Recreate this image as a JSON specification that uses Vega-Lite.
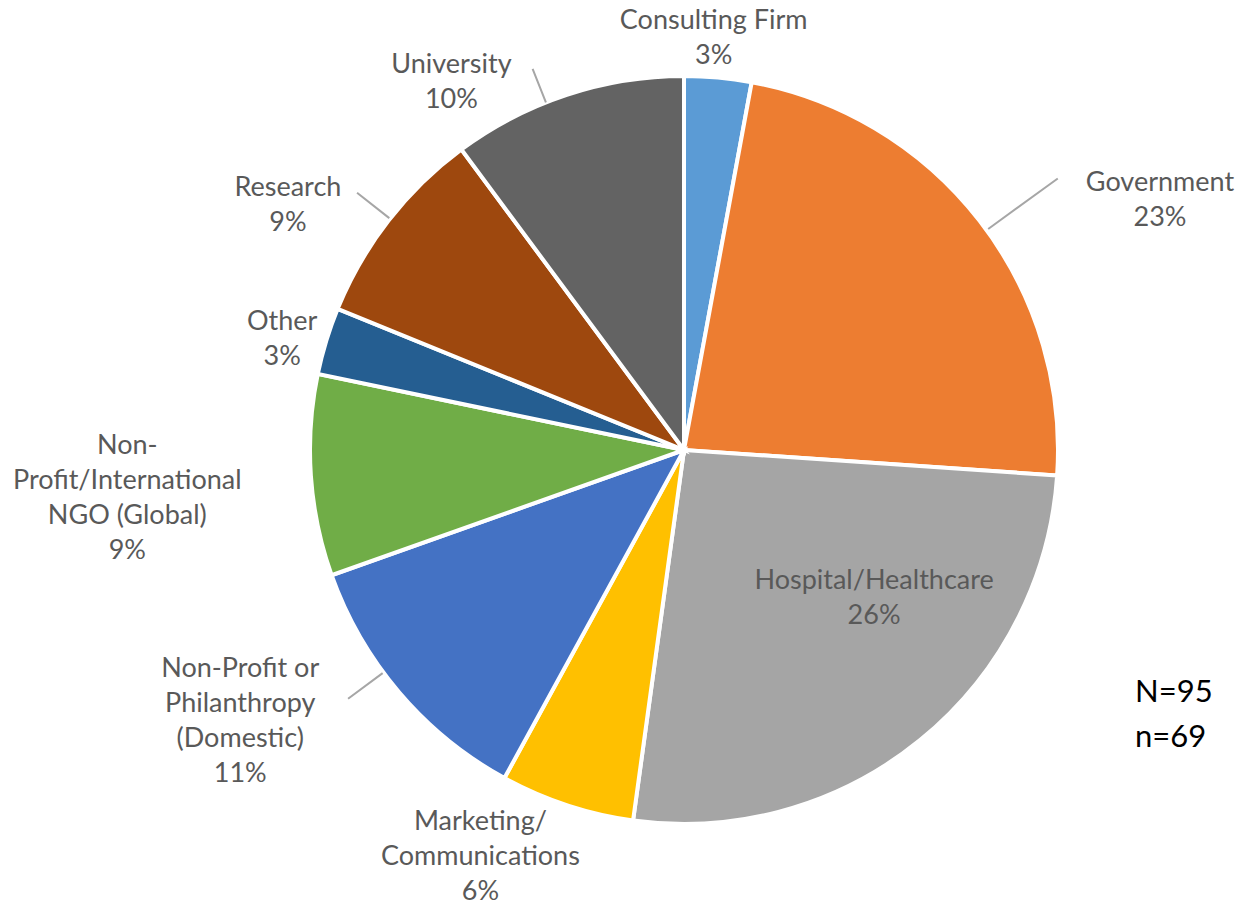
{
  "$schema": "https://vega.github.io/schema/vega-lite/v6.json",
  "width": 748,
  "height": 748,
  "autosize": {"type": "none"},
  "padding": {"left": 310, "top": 76, "right": 185, "bottom": 83},
  "background": "white",
  "config": {"view": {"stroke": null}},
  "data": {
    "values": [
      {"idx": 1, "category": "Consulting Firm", "count": 2, "label": "Consulting Firm\n3%"},
      {"idx": 2, "category": "Government", "count": 16, "label": "Government\n23%"},
      {"idx": 3, "category": "Hospital/Healthcare", "count": 18, "label": "Hospital/Healthcare\n26%"},
      {"idx": 4, "category": "Marketing/Communications", "count": 4, "label": "Marketing/\nCommunications\n6%"},
      {"idx": 5, "category": "Non-Profit or Philanthropy (Domestic)", "count": 8, "label": "Non-Profit or\nPhilanthropy\n(Domestic)\n11%"},
      {"idx": 6, "category": "Non-Profit/International NGO (Global)", "count": 6, "label": "Non-\nProfit/International\nNGO (Global)\n9%"},
      {"idx": 7, "category": "Other", "count": 2, "label": "Other\n3%"},
      {"idx": 8, "category": "Research", "count": 6, "label": "Research\n9%"},
      {"idx": 9, "category": "University", "count": 7, "label": "University\n10%"}
    ]
  },
  "layer": [
    {
      "mark": {"type": "arc", "stroke": "white", "strokeWidth": 4},
      "encoding": {
        "theta": {"field": "count", "type": "quantitative", "stack": true},
        "order": {"field": "idx", "type": "quantitative"},
        "color": {
          "field": "category",
          "type": "nominal",
          "scale": {
            "domain": ["Consulting Firm", "Government", "Hospital/Healthcare", "Marketing/Communications", "Non-Profit or Philanthropy (Domestic)", "Non-Profit/International NGO (Global)", "Other", "Research", "University"],
            "range": ["#5B9BD5", "#ED7D31", "#A5A5A5", "#FFC000", "#4472C4", "#70AD47", "#255E91", "#9E480E", "#636363"]
          },
          "legend": null
        }
      }
    },
    {
      "data": {"values": [{}]},
      "mark": {"type": "arc", "filled": false, "stroke": "#A6A6A6", "strokeWidth": 2},
      "encoding": {"theta": {"value": 0.9425}, "theta2": {"value": 0.9425}, "radius": {"value": 462}, "radius2": {"value": 376}}
    },
    {
      "data": {"values": [{}]},
      "mark": {"type": "arc", "filled": false, "stroke": "#A6A6A6", "strokeWidth": 2},
      "encoding": {"theta": {"value": 5.905}, "theta2": {"value": 5.905}, "radius": {"value": 410}, "radius2": {"value": 374}}
    },
    {
      "data": {"values": [{}]},
      "mark": {"type": "arc", "filled": false, "stroke": "#A6A6A6", "strokeWidth": 2},
      "encoding": {"theta": {"value": 5.379}, "theta2": {"value": 5.379}, "radius": {"value": 416}, "radius2": {"value": 375}}
    },
    {
      "data": {"values": [{}]},
      "mark": {"type": "arc", "filled": false, "stroke": "#A6A6A6", "strokeWidth": 2},
      "encoding": {"theta": {"value": 4.075}, "theta2": {"value": 4.075}, "radius": {"value": 418}, "radius2": {"value": 375}}
    },
    {
      "data": {"values": [{"note": "N=95\nn=69"}]},
      "mark": {"type": "text", "dx": 451, "dy": 243, "font": "Lato", "fontSize": 31, "lineHeight": 45, "lineBreak": "\n", "color": "#000000", "align": "left", "baseline": "middle"},
      "encoding": {"text": {"field": "note"}}
    },
    {
      "mark": {"type": "text", "radius": 414, "dx": -8, "dy": -17, "font": "Lato", "fontSize": 27, "lineHeight": 35, "lineBreak": "\n", "color": "#595959", "align": "center", "baseline": "middle"},
      "encoding": {
        "theta": {"field": "count", "type": "quantitative", "stack": true},
        "order": {"field": "idx", "type": "quantitative"},
        "text": {"condition": {"test": "datum.category === 'Consulting Firm'", "field": "label"}, "value": ""}
      }
    },
    {
      "mark": {"type": "text", "radius": 538, "dx": 51, "dy": 63, "font": "Lato", "fontSize": 27, "lineHeight": 35, "lineBreak": "\n", "color": "#595959", "align": "center", "baseline": "middle"},
      "encoding": {
        "theta": {"field": "count", "type": "quantitative", "stack": true},
        "order": {"field": "idx", "type": "quantitative"},
        "text": {"condition": {"test": "datum.category === 'Government'", "field": "label"}, "value": ""}
      }
    },
    {
      "mark": {"type": "text", "radius": 241, "dx": 38, "dy": -56, "font": "Lato", "fontSize": 27, "lineHeight": 35, "lineBreak": "\n", "color": "#595959", "align": "center", "baseline": "middle"},
      "encoding": {
        "theta": {"field": "count", "type": "quantitative", "stack": true},
        "order": {"field": "idx", "type": "quantitative"},
        "text": {"condition": {"test": "datum.category === 'Hospital/Healthcare'", "field": "label"}, "value": ""}
      }
    },
    {
      "mark": {"type": "text", "radius": 455, "dx": -61, "dy": -60, "font": "Lato", "fontSize": 27, "lineHeight": 35, "lineBreak": "\n", "color": "#595959", "align": "center", "baseline": "middle"},
      "encoding": {
        "theta": {"field": "count", "type": "quantitative", "stack": true},
        "order": {"field": "idx", "type": "quantitative"},
        "text": {"condition": {"test": "datum.category === 'Marketing/Communications'", "field": "label"}, "value": ""}
      }
    },
    {
      "mark": {"type": "text", "radius": 520, "dx": -48, "dy": -118, "font": "Lato", "fontSize": 27, "lineHeight": 35, "lineBreak": "\n", "color": "#595959", "align": "center", "baseline": "middle"},
      "encoding": {
        "theta": {"field": "count", "type": "quantitative", "stack": true},
        "order": {"field": "idx", "type": "quantitative"},
        "text": {"condition": {"test": "datum.category === 'Non-Profit or Philanthropy (Domestic)'", "field": "label"}, "value": ""}
      }
    },
    {
      "mark": {"type": "text", "radius": 559, "dx": 1, "dy": -42, "font": "Lato", "fontSize": 27, "lineHeight": 35, "lineBreak": "\n", "color": "#595959", "align": "center", "baseline": "middle"},
      "encoding": {
        "theta": {"field": "count", "type": "quantitative", "stack": true},
        "order": {"field": "idx", "type": "quantitative"},
        "text": {"condition": {"test": "datum.category === 'Non-Profit/International NGO (Global)'", "field": "label"}, "value": ""}
      }
    },
    {
      "mark": {"type": "text", "radius": 417, "dx": -3, "dy": -6, "font": "Lato", "fontSize": 27, "lineHeight": 35, "lineBreak": "\n", "color": "#595959", "align": "center", "baseline": "middle"},
      "encoding": {
        "theta": {"field": "count", "type": "quantitative", "stack": true},
        "order": {"field": "idx", "type": "quantitative"},
        "text": {"condition": {"test": "datum.category === 'Other'", "field": "label"}, "value": ""}
      }
    },
    {
      "mark": {"type": "text", "radius": 466, "dx": -28, "dy": 24, "font": "Lato", "fontSize": 27, "lineHeight": 35, "lineBreak": "\n", "color": "#595959", "align": "center", "baseline": "middle"},
      "encoding": {
        "theta": {"field": "count", "type": "quantitative", "stack": true},
        "order": {"field": "idx", "type": "quantitative"},
        "text": {"condition": {"test": "datum.category === 'Research'", "field": "label"}, "value": ""}
      }
    },
    {
      "mark": {"type": "text", "radius": 436, "dx": -96, "dy": 29, "font": "Lato", "fontSize": 27, "lineHeight": 35, "lineBreak": "\n", "color": "#595959", "align": "center", "baseline": "middle"},
      "encoding": {
        "theta": {"field": "count", "type": "quantitative", "stack": true},
        "order": {"field": "idx", "type": "quantitative"},
        "text": {"condition": {"test": "datum.category === 'University'", "field": "label"}, "value": ""}
      }
    }
  ]
}
